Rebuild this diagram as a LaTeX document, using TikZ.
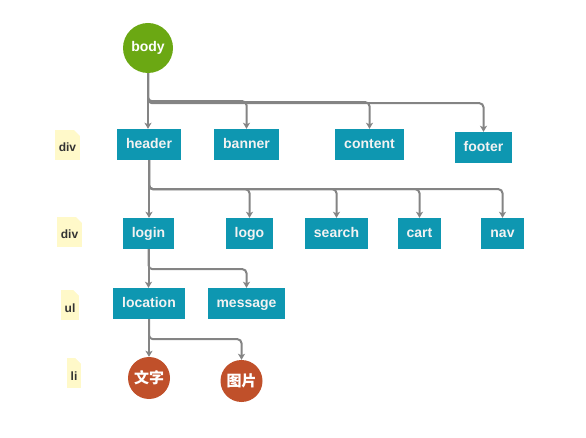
\documentclass[tikz,border=0pt]{standalone}
\usepackage{fontspec}
\setmainfont{Liberation Sans}
\newfontfamily\cjk{Noto Sans CJK SC}
\usetikzlibrary{arrows.meta}

\definecolor{bodygreen}{HTML}{6BA813}
\definecolor{tagteal}{HTML}{0E97B1}
\definecolor{leaforange}{HTML}{C0502A}
\definecolor{noteyellow}{HTML}{FFF9C9}
\definecolor{linkgray}{HTML}{848484}

\begin{document}
\begin{tikzpicture}[x=1pt,y=-1pt,
    link/.style={draw=linkgray,line width=2pt,rounded corners=4pt,
      -{Stealth[length=6pt,width=7pt,inset=1.5pt]}},
    root node/.style={circle,fill=bodygreen,minimum size=50pt,inner sep=0pt,
      text=white,font=\bfseries\fontsize{14}{16}\selectfont},
    tag node/.style={rectangle,fill=tagteal,minimum height=31pt,inner xsep=9pt,
      text height=10pt,text depth=2pt,
      text=white!95!black,font=\bfseries\fontsize{14}{16}\selectfont},
    leaf node/.style={circle,fill=leaforange,minimum size=42pt,inner sep=0pt,
      text=white,font=\cjk\bfseries\fontsize{15}{17}\selectfont},
    level note/.style={rectangle,fill=noteyellow,minimum height=30pt,inner xsep=4pt,
      inner ysep=1pt,text height=14pt,text depth=0pt,
      text=black!80,font=\bfseries\fontsize{12}{14}\selectfont,
      path picture={\fill[white] (path picture bounding box.north east)
        -- ++(-6pt,0pt) -- ++(6pt,-6pt) -- cycle;}}]

  \useasboundingbox (0,0) rectangle (586,438);

  % tree
  \node[root node] (body) at (148,48) {body};

  \node[tag node] (header)  at (149,144.5)   {header};
  \node[tag node] (banner)  at (246.5,144.5) {banner};
  \node[tag node] (content) at (369.5,144.5) {content};
  \node[tag node] (footer)  at (483.5,147.5) {footer};

  \node[tag node] (login)  at (148.5,233.5) {login};
  \node[tag node] (logo)   at (249.5,233.5) {logo};
  \node[tag node] (search) at (336.5,233.5) {search};
  \node[tag node] (cart)   at (419.5,233.5) {cart};
  \node[tag node] (nav)    at (502.5,233.5) {nav};

  \node[tag node] (location) at (149,303.5)   {location};
  \node[tag node] (message)  at (246.5,303.5) {message};

  \node[leaf node] (text)  at (149,378)   {文字};
  \node[leaf node] (image) at (241.5,381) {图片};

  % level notes
  \node[level note] (note div1) at (67.5,145) {div};
  \node[level note] (note div2) at (69.5,232) {div};
  \node[level note] (note ul)   at (70,305)   {ul};
  \node[level note] (note li)   at (74,373)   {li};

  % links
  \draw[link] (body.south) -- (body.south |- header.north);
  \draw[link] (body.south) -- ++(0,28) -| (banner.north);
  \draw[link] (body.south) -- ++(0,29) -| (content.north);
  \draw[link] (body.south) -- ++(0,30) -| (footer.north);

  \draw[link] (header.south) -- (header.south |- login.north);
  \draw[link] (header.south) -- ++(0,29) -| (logo.north);
  \draw[link] (header.south) -- ++(0,29) -| (search.north);
  \draw[link] (header.south) -- ++(0,29) -| (cart.north);
  \draw[link] (header.south) -- ++(0,29) -| (nav.north);

  \draw[link] (login.south) -- (login.south |- location.north);
  \draw[link] (login.south) -- ++(0,20) -| (message.north);

  \draw[link] (location.south) -- (location.south |- text.north);
  \draw[link] (location.south) -- ++(0,20) -| (image.north);
\end{tikzpicture}
\end{document}
